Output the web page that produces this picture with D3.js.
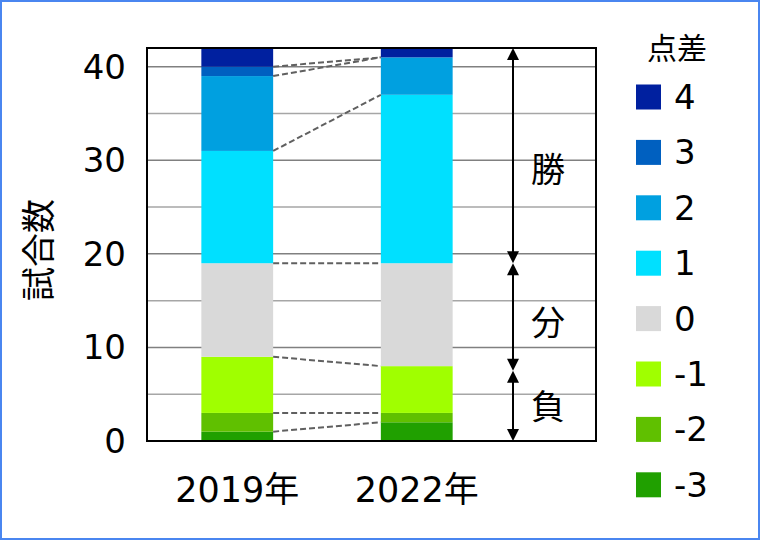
<!DOCTYPE html>
<html>
<head>
<meta charset="utf-8">
<script src="https://cdn.jsdelivr.net/npm/d3@7"></script>
<style>
  body { margin: 0; background: #fff; }
  text { font-family: "DejaVu Sans", "Noto Sans CJK JP", sans-serif; fill: #000; }
</style>
</head>
<body>
<svg width="760" height="540"></svg>
<script>
// data
var years = ["2019年", "2022年"];
var diffs = ["-3", "-2", "-1", "0", "1", "2", "3", "4"];
var games2019 = [1, 2, 6, 10, 12, 8, 1, 2];
var games2022 = [2, 1, 5, 11, 18, 4, 0, 1];
var colors = ["#20a000", "#60c000", "#a0ff00", "#d9d9d9", "#00e0ff", "#00a0e0", "#0060c0", "#00209f"];
var yTicks = [0, 10, 20, 30, 40];
var results = [
  {label: "勝", from: 42, to: 19, textAt: 29.1},
  {label: "分", from: 19, to: 7.5, textAt: 12.7},
  {label: "負", from: 7.5, to: 0, textAt: 3.7}
];

var svg = d3.select("svg"),
    plotL = 147, plotR = 596, plotT = 48, plotB = 441;

svg.append("rect")
    .attr("x", 1).attr("y", 1).attr("width", 758).attr("height", 538)
    .attr("fill", "#fff").attr("stroke", "#4a86f0").attr("stroke-width", 2);

var y = d3.scaleLinear().domain([0, 42]).range([plotB, plotT]);
var x = d3.scaleBand().domain(years).range([plotL + 0.5, plotL + 0.5 + 2 * 179.5]);
var barW = x.bandwidth() * 0.4;
var color = d3.scaleOrdinal().domain(diffs).range(colors);

// gridlines
var grid = svg.append("g");
d3.range(5, 41, 5).forEach(function(v) {
  grid.append("line")
      .attr("x1", plotL).attr("x2", plotR)
      .attr("y1", y(v)).attr("y2", y(v))
      .attr("stroke", v % 10 === 0 ? "#808080" : "#a6a6a6")
      .attr("stroke-width", 1.5);
});

// stacked bars
var rows = years.map(function(yr, i) {
  var vals = i === 0 ? games2019 : games2022;
  var r = {year: yr};
  diffs.forEach(function(d, j) { r[d] = vals[j]; });
  return r;
});
var series = d3.stack().keys(diffs)(rows);

svg.append("g").selectAll("g")
    .data(series)
  .enter().append("g")
    .attr("fill", function(s) { return color(s.key); })
  .selectAll("rect")
    .data(function(s) { return s; })
  .enter().append("rect")
    .attr("x", function(d) { return x(d.data.year) + (x.bandwidth() - barW) / 2; })
    .attr("width", barW)
    .attr("y", function(d) { return y(d[1]); })
    .attr("height", function(d) { return y(d[0]) - y(d[1]); });

// dashed connectors between the two bars
svg.append("g").selectAll("line")
    .data(series.slice(0, series.length - 1))
  .enter().append("line")
    .attr("x1", x(years[0]) + (x.bandwidth() + barW) / 2)
    .attr("x2", x(years[1]) + (x.bandwidth() - barW) / 2)
    .attr("y1", function(s) { return y(s[0][1]); })
    .attr("y2", function(s) { return y(s[1][1]); })
    .attr("stroke", "#606060")
    .attr("stroke-width", 2)
    .attr("stroke-dasharray", "6,3");

// plot frame
svg.append("rect")
    .attr("x", plotL).attr("y", plotT)
    .attr("width", plotR - plotL).attr("height", plotB - plotT)
    .attr("fill", "none").attr("stroke", "#000").attr("stroke-width", 2);

// y tick labels
svg.append("g").selectAll("text")
    .data(yTicks)
  .enter().append("text")
    .attr("x", 126)
    .attr("y", function(d) { return y(d) + 12; })
    .attr("text-anchor", "end")
    .attr("font-size", "34px")
    .text(function(d) { return d; });

// y axis title
svg.append("text")
    .attr("transform", "translate(51,250) rotate(-90)")
    .attr("text-anchor", "middle")
    .attr("font-size", "34px")
    .text("試合数");

// category labels
svg.append("g").selectAll("text")
    .data(years)
  .enter().append("text")
    .attr("x", function(d) { return x(d) + x.bandwidth() / 2; })
    .attr("y", 502)
    .attr("text-anchor", "middle")
    .attr("font-size", "35px")
    .text(function(d) { return d; });

// win / draw / loss arrows
var ax = 513, head = 12;
var arrows = svg.append("g");
results.forEach(function(r) {
  var y1 = y(r.from), y2 = y(r.to);
  arrows.append("line")
      .attr("x1", ax).attr("x2", ax)
      .attr("y1", y1 + 4).attr("y2", y2 - 4)
      .attr("stroke", "#000").attr("stroke-width", 2);
  arrows.append("path")
      .attr("d", "M" + ax + "," + y1 + " L" + (ax - head / 2) + "," + (y1 + head) + " L" + (ax + head / 2) + "," + (y1 + head) + "Z");
  arrows.append("path")
      .attr("d", "M" + ax + "," + y2 + " L" + (ax - head / 2) + "," + (y2 - head) + " L" + (ax + head / 2) + "," + (y2 - head) + "Z");
  arrows.append("text")
      .attr("x", 548)
      .attr("y", y(r.textAt) + 13)
      .attr("text-anchor", "middle")
      .attr("font-size", "34px")
      .text(r.label);
});

// legend
svg.append("text")
    .attr("x", 677).attr("y", 59)
    .attr("text-anchor", "middle")
    .attr("font-size", "30px")
    .text("点差");

var legend = svg.append("g").selectAll("g")
    .data(diffs.slice().reverse())
  .enter().append("g")
    .attr("transform", function(d, i) { return "translate(636," + (97 + i * 55.4) + ")"; });

legend.append("rect")
    .attr("x", 0).attr("y", -12.5)
    .attr("width", 25).attr("height", 25)
    .attr("fill", function(d) { return color(d); });

legend.append("text")
    .attr("x", 38).attr("y", 12)
    .attr("font-size", "34px")
    .text(function(d) { return d; });
</script>
</body>
</html>
